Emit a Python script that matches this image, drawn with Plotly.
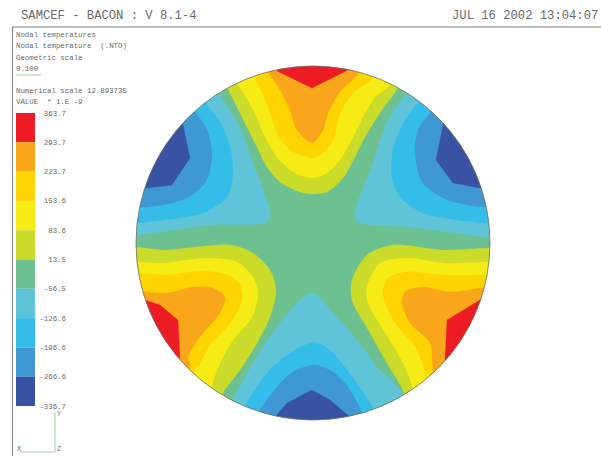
import numpy as np
import plotly.graph_objects as go

# Legend scale
levels = [363.7, 293.7, 223.7, 153.6, 83.6, 13.5, -56.5, -126.6, -196.6, -266.6, -336.7]
level_labels = ["363.7", "293.7", "223.7", "153.6", "83.6", "13.5", "-56.5", "-126.6", "-196.6", "-266.6", "-336.7"]
band_colors = ["#ED1C24", "#FAA61A", "#FFD400", "#F6EB14", "#CBDB2A", "#6DC08F",
               "#5FC4D8", "#35BDE9", "#3F97D3", "#3953A4"]
RED, ORANGE, GOLD, YELLOW, YGREEN, GREEN, TEAL, SKY, BLUE, DARK = band_colors

# Isotherm outlines (x, y in picture units)
top_lobe = [
    (YGREEN, [(228,89),(240,113),(255,143),(267,167),(280,182),(300,192),(312,194),(327,192),(343,178),(355,157),(365,137),(382,110),(397,89),(412,52),(215,52)]),
    (YELLOW, [(238,85),(255,113),(265,137),(277,157),(293,172),(312,178),(327,173),(340,160),(353,137),(365,113),(375,97),(390,85),(400,52),(225,52)]),
    (GOLD, [(255,78),(267,103),(277,133),(290,150),(307,157),(313,158),(323,153),(333,140),(340,113),(353,93),(373,78),(385,52),(245,52)]),
    (ORANGE, [(268,72),(280,90),(290,110),(297,130),(312,143),(323,130),(328,113),(340,92),(357,75),(370,52),(260,52)]),
    (RED, [(277,71),(312,88),(348,70),(355,52),(270,52)]),
]
upper_left_lobe = [
    (TEAL, [(220,95),(240,128),(253,163),(270,213),(267,222),(210,225),(137,235),(122,235),(122,52),(220,52)]),
    (SKY, [(207,105),(220,122),(230,147),(233,173),(227,197),(203,213),(163,220),(137,223),(122,223),(122,52),(207,52)]),
    (BLUE, [(195,112),(207,130),(212,157),(205,183),(187,198),(163,205),(142,207),(122,207),(122,52),(195,52)]),
    (DARK, [(183,125),(190,158),(172,185),(147,188),(122,188),(122,52),(183,52)]),
]
upper_right_lobe = [
    (TEAL, [(405,95),(388,120),(373,163),(355,213),(358,222),(410,227),(488,237),(504,237),(504,52),(405,52)]),
    (SKY, [(418,103),(403,123),(393,150),(392,177),(400,197),(423,213),(457,220),(487,223),(504,223),(504,52),(418,52)]),
    (BLUE, [(430,113),(418,130),(415,153),(422,182),(443,198),(467,205),(485,207),(504,207),(504,52),(430,52)]),
    (DARK, [(443,125),(436,160),(453,183),(480,188),(504,188),(504,52),(443,52)]),
]
lower_left_lobe = [
    (YGREEN, [(122,247),(136,247),(163,250),(230,245),(253,253),(270,270),(276,290),(270,317),(257,343),(240,370),(222,395),(215,434),(122,434)]),
    (YELLOW, [(122,262),(137,262),(163,263),(207,258),(237,262),(253,277),(258,293),(252,317),(233,340),(220,363),(212,385),(200,434),(122,434)]),
    (GOLD, [(122,273),(138,273),(167,275),(203,271),(227,275),(240,285),(242,300),(230,323),(210,345),(200,363),(193,372),(180,434),(122,434)]),
    (ORANGE, [(122,292),(143,292),(167,293),(193,287),(213,288),(225,297),(220,313),(200,337),(188,357),(190,366),(170,434),(122,434)]),
    (RED, [(122,300),(145,300),(160,305),(178,320),(180,360),(122,434)]),
]
lower_right_lobe = [
    (YGREEN, [(504,248),(490,248),(443,250),(393,245),(367,255),(352,280),(352,300),(370,333),(387,363),(405,395),(412,434),(504,434)]),
    (YELLOW, [(504,262),(488,262),(443,263),(410,258),(380,263),(367,287),(368,303),(388,337),(403,363),(412,385),(422,434),(504,434)]),
    (GOLD, [(504,275),(487,275),(443,275),(407,272),(388,278),(383,293),(393,320),(417,350),(425,373),(435,434),(504,434)]),
    (ORANGE, [(504,288),(482,288),(450,292),(423,287),(405,292),(402,302),(410,323),(430,343),(433,370),(445,434),(504,434)]),
    (RED, [(504,300),(480,300),(447,320),(445,360),(504,434)]),
]
bottom_lobe = [
    (TEAL, [(233,399),(253,363),(280,323),(312,293),(333,313),(357,340),(377,367),(402,393),(412,434),(225,434)]),
    (SKY, [(245,405),(267,373),(290,353),(315,342),(330,350),(347,370),(373,408),(380,434),(238,434)]),
    (BLUE, [(260,410),(277,387),(293,372),(315,365),(333,372),(348,387),(362,413),(368,434),(255,434)]),
    (DARK, [(275,417),(287,403),(312,390),(330,400),(350,417),(352,434),(272,434)]),
]
lobes = [top_lobe, upper_left_lobe, upper_right_lobe, lower_left_lobe, lower_right_lobe, bottom_lobe]

header_left = "SAMCEF - BACON : V 8.1-4"
header_right = "JUL 16 2002 13:04:07"
info_lines = ["Nodal temperatures", "Nodal temperature  (.NTO)", "Geometric scale", "0.100",
              "Numerical scale 12.893735", "VALUE  * 1.E -9"]
info_y = [34.5, 46, 58, 69, 91, 102]

CX, CY, R = 313, 243, 177
MONO = "Liberation Mono, DejaVu Sans Mono, monospace"
TXT = "#6a6a6a"

fig = go.Figure()
for lobe in lobes:
    for color, pts in lobe:
        xs, ys = zip(*pts)
        sharp = color in (RED, DARK)
        fig.add_trace(go.Scatter(x=xs, y=ys, mode="lines", fill="toself", fillcolor=color,
                                 line=dict(color=color, width=0.3, shape="linear" if sharp else "spline",
                                           smoothing=None if sharp else 0.8),
                                 hoverinfo="skip", showlegend=False))

# Triad and geometric scale bar
fig.add_trace(go.Scatter(x=[19, 55, 55, None, 16, 41], y=[452, 452, 412, None, 75, 75], mode="lines",
                         line=dict(color="#a5d0a5", width=1), hoverinfo="skip", showlegend=False))

# Legend bar, on its own axes
fig.add_trace(go.Bar(x=["scale"] * 10, base=levels[1:],
                     y=[levels[i] - levels[i + 1] for i in range(10)],
                     width=1, marker=dict(color=band_colors, line=dict(width=0)),
                     xaxis="x2", yaxis="y2", showlegend=False, hoverinfo="skip"))

theta = np.linspace(0, 2 * np.pi, 361)[:-1]
circle_path = "M" + "L".join(f"{CX + R*np.cos(t):.2f},{CY + R*np.sin(t):.2f}" for t in theta) + "Z"
mask_path = "M70,28L535,28L535,456L70,456Z" + circle_path

shapes = [
    dict(type="circle", xref="x", yref="y", x0=CX-R, x1=CX+R, y0=CY-R, y1=CY+R,
         fillcolor=GREEN, line=dict(width=0), layer="below"),
    dict(type="path", xref="x", yref="y", path=mask_path, fillcolor="white", fillrule="evenodd",
         line=dict(width=0), layer="above"),
    dict(type="circle", xref="x", yref="y", x0=CX-R, x1=CX+R, y0=CY-R, y1=CY+R,
         line=dict(color="#6f6f5a", width=0.8), layer="above"),
    dict(type="line", xref="x", yref="y", x0=12, x1=601, y0=27, y1=27,
         line=dict(color="#a8a8a8", width=1.5), layer="above"),
    dict(type="line", xref="x", yref="y", x0=12.5, x1=12.5, y0=27, y1=456,
         line=dict(color="#8c8c8c", width=1.2), layer="above"),
]

def label(x, y, text, size=7.4, anchor="left"):
    return dict(x=x, y=y, xref="x", yref="y", text=text, showarrow=False, xanchor=anchor, yanchor="middle",
                font=dict(family=MONO, size=size, color=TXT), borderpad=0, borderwidth=0)

annotations = [label(21, 16, header_left, 12.2), label(598, 16, header_right, 12.2, "right")]
annotations += [label(16, y, t) for t, y in zip(info_lines, info_y)]
annotations += [label(57, 414, "Y", 6.5), label(57, 449, "Z", 6.5), label(17, 449, "X", 6.5)]

k = (levels[0] - levels[-1]) / (406 - 113)
fig.update_layout(
    width=601, height=456, margin=dict(l=0, r=0, t=0, b=0),
    paper_bgcolor="white", plot_bgcolor="rgba(0,0,0,0)", shapes=shapes, annotations=annotations,
    barmode="overlay",
    xaxis=dict(range=[0, 601], domain=[0, 1], visible=False, fixedrange=True),
    yaxis=dict(range=[456, 0], domain=[0, 1], visible=False, fixedrange=True),
    xaxis2=dict(domain=[16/601, 35/601], anchor="y2", visible=False, fixedrange=True),
    yaxis2=dict(domain=[0, 1], range=[levels[-1] - (456-406)*k, levels[0] + 113*k],
                anchor="free", position=66/601, overlaying=None, side="left",
                tickmode="array", tickvals=levels, ticktext=level_labels, ticks="",
                showgrid=False, zeroline=False, showline=False, fixedrange=True,
                tickfont=dict(family=MONO, size=7.4, color=TXT)),
)
fig.write_html("out.html", config=dict(displayModeBar=False),
               post_script="document.body.style.margin='0';document.body.style.overflow='hidden';")
